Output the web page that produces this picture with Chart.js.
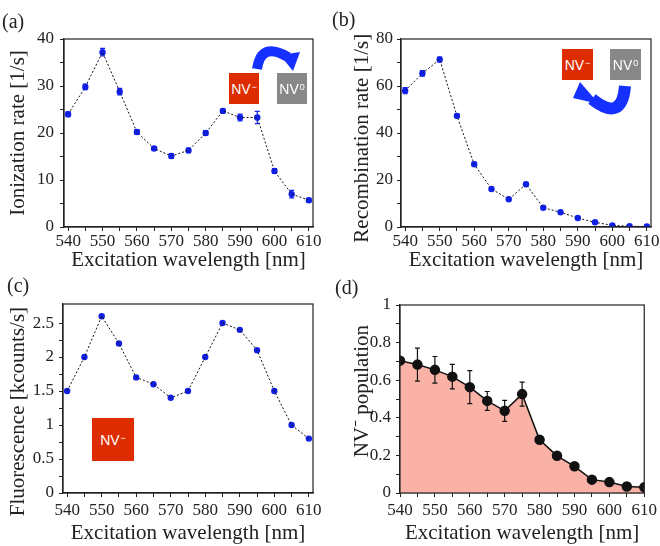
<!DOCTYPE html>
<html>
<head>
<meta charset="utf-8">
<script src="https://cdn.jsdelivr.net/npm/chart.js@4.4.1/dist/chart.umd.min.js"></script>
<style>
body{margin:0;background:#fff;}
#fig{position:relative;width:660px;height:546px;font-family:"Liberation Serif",serif;overflow:hidden;}
canvas{position:absolute;}
.lab{position:absolute;font-size:20px;color:#222;line-height:1;}
.nv{position:absolute;color:#fff;font-family:"Liberation Sans",Arial,sans-serif;font-size:14px;display:flex;align-items:center;justify-content:center;}
.nv sup{font-size:9px;position:relative;top:-2px;margin-left:1px;}
.red{background:#dd2c00;}
.gray{background:#888;}
svg{position:absolute;left:0;top:0;}
</style>
</head>
<body>
<div id="fig">
  <canvas id="ca" width="330" height="273" style="left:0;top:0"></canvas>
  <canvas id="cb" width="330" height="273" style="left:330px;top:0"></canvas>
  <canvas id="cc" width="330" height="273" style="left:0;top:273px"></canvas>
  <canvas id="cd" width="330" height="273" style="left:330px;top:273px"></canvas>

  <div class="lab" style="left:2px;top:11px">(a)</div>
  <div class="lab" style="left:332px;top:9px">(b)</div>
  <div class="lab" style="left:7px;top:275px">(c)</div>
  <div class="lab" style="left:335px;top:277px">(d)</div>

  <div class="nv red" style="left:229px;top:73px;width:30px;height:31px">NV<sup>−</sup></div>
  <div class="nv gray" style="left:277px;top:73px;width:30px;height:31px">NV<sup>0</sup></div>
  <div class="nv red" style="left:562px;top:49px;width:31px;height:31px">NV<sup>−</sup></div>
  <div class="nv gray" style="left:610px;top:49px;width:31px;height:31px">NV<sup>0</sup></div>
  <div class="nv red" style="left:92px;top:418px;width:42px;height:43px">NV<sup>−</sup></div>

  <svg width="660" height="546">
    <path d="M257 69 Q261 41 288 57" stroke="#1530ff" stroke-width="10" fill="none"/>
    <polygon points="280,55 300,52 293,71" fill="#1530ff"/>
    <path d="M625 86 Q622 123 592 99" stroke="#1530ff" stroke-width="12" fill="none"/>
    <polygon points="580,82 599,104 573,98" fill="#1530ff"/>
  </svg>
</div>

<script>
// datos
const wavelength = [540, 545, 550, 555, 560, 565, 570, 575, 580, 585, 590, 595, 600, 605, 610];

const ionRate = [24.0, 29.8, 37.2, 28.8, 20.2, 16.7, 15.1, 16.3, 20.0, 24.7, 23.3, 23.3, 11.9, 7.0, 5.7];
const ionErr  = [0.5, 0.6, 0.8, 0.7, 0.5, 0.4, 0.5, 0.5, 0.5, 0.4, 0.7, 1.3, 0.5, 0.8, 0.4];

const recRate = [58.0, 65.4, 71.3, 47.3, 26.7, 16.2, 11.8, 18.2, 8.2, 6.3, 3.8, 2.0, 0.7, 0.3, 0.2];
const recErr  = [1.3, 1.2, 1.0, 0.8, 0.8, 0.6, 0.5, 0.6, 0.4, 0.3, 0.3, 0.2, 0.2, 0.1, 0.1];

const fluor = [1.5, 2.0, 2.6, 2.2, 1.7, 1.6, 1.4, 1.5, 2.0, 2.5, 2.4, 2.1, 1.5, 1.0, 0.8];

const nvPop = [0.704, 0.683, 0.655, 0.619, 0.563, 0.490, 0.437, 0.526, 0.283, 0.198, 0.142, 0.071, 0.058, 0.035, 0.030];
const nvErr = [0, 0.088, 0.071, 0.065, 0.088, 0.050, 0.056, 0.064, 0, 0, 0, 0, 0, 0, 0];

// ticks
const xTicks = [540, 545, 550, 555, 560, 565, 570, 575, 580, 585, 590, 595, 600, 605, 610];
const xLabels = [540, 550, 560, 570, 580, 590, 600, 610];
const yTicksA = [0, 5, 10, 15, 20, 25, 30, 35, 40];
const yLabelsA = [0, 10, 20, 30, 40];
const yTicksB = [0, 10, 20, 30, 40, 50, 60, 70, 80];
const yLabelsB = [0, 20, 40, 60, 80];
const yTicksC = [0, 0.25, 0.5, 0.75, 1, 1.25, 1.5, 1.75, 2, 2.25, 2.5];
const yLabelsC = [0, 0.5, 1, 1.5, 2, 2.5];
const yTicksD = [0, 0.1, 0.2, 0.3, 0.4, 0.5, 0.6, 0.7, 0.8, 0.9, 1];
const yLabelsD = [0, 0.2, 0.4, 0.6, 0.8, 1];

const FONT = '"Liberation Serif", serif';
const TXT = '#222';
const NB = '\u00a0';

// marco
const frame = {
    id: 'frame',
    afterDraw(c){
        const {ctx, chartArea: a} = c;
        ctx.save();
        ctx.strokeStyle = '#222';
        ctx.lineWidth = 1.2;
        ctx.strokeRect(a.left, a.top, a.right - a.left, a.bottom - a.top);
        ctx.restore();
    }
};

// barras de error
const errbars = {
    id: 'errbars',
    afterDatasetsDraw(c, args, o){
        if(!o.err) return;
        const ds = c.data.datasets[o.dataset];
        const x = c.scales.x, y = c.scales.y;
        const ctx = c.ctx;
        ctx.save();
        ctx.strokeStyle = o.color;
        ctx.lineWidth = o.width || 1;
        ds.data.forEach((p, i) => {
            const e = o.err[i];
            if(!e) return;
            const px = x.getPixelForValue(p.x);
            const y1 = y.getPixelForValue(p.y + e);
            const y2 = y.getPixelForValue(p.y - e);
            ctx.beginPath();
            ctx.moveTo(px, y1); ctx.lineTo(px, y2);
            ctx.moveTo(px - o.cap, y1); ctx.lineTo(px + o.cap, y1);
            ctx.moveTo(px - o.cap, y2); ctx.lineTo(px + o.cap, y2);
            ctx.stroke();
        });
        ctx.restore();
    }
};

function puntos(vals){
    return wavelength.map((w, i) => ({x: w, y: vals[i]}));
}

function crearPanel(id, p){
    return new Chart(document.getElementById(id), {
        type: 'line',
        data: {datasets: p.datasets},
        options: {
            responsive: false,
            animation: false,
            layout: {padding: {top: p.top, right: p.right, left: 0, bottom: 0}},
            plugins: {
                legend: {display: false},
                tooltip: {enabled: false},
                errbars: p.errbars || {}
            },
            scales: {
                x: {
                    type: 'linear',
                    min: p.xmin, max: p.xmax,
                    afterBuildTicks: s => { s.ticks = xTicks.map(v => ({value: v})); },
                    afterFit: s => { s.height = p.bottom; },
                    ticks: {
                        callback: v => xLabels.includes(v) ? v : '',
                        font: {family: FONT, size: 17}, color: TXT,
                        padding: p.xpad, maxRotation: 0, autoSkip: false
                    },
                    grid: {drawOnChartArea: false, color: '#222', tickLength: 4},
                    border: {color: '#222', width: 1.2},
                    title: {display: true, text: 'Excitation wavelength [nm]', color: TXT,
                        font: {family: FONT, size: 21}, padding: {top: 0, bottom: p.xtpad}}
                },
                y: {
                    type: 'linear',
                    min: p.ymin, max: p.ymax,
                    afterBuildTicks: s => { s.ticks = p.yTicks.map(v => ({value: v})); },
                    afterFit: s => { s.width = p.left; },
                    ticks: {
                        callback: v => p.yLabels.includes(v) ? v : '',
                        font: {family: FONT, size: 17}, color: TXT,
                        padding: p.ypad, autoSkip: false
                    },
                    grid: {drawOnChartArea: false, color: '#222', tickLength: 4},
                    border: {color: '#222', width: 1.2},
                    title: {display: true, text: p.ytitle, color: TXT,
                        font: {family: FONT, size: 21}, padding: {top: p.ytpad, bottom: 0}}
                }
            }
        },
        plugins: [frame, errbars]
    });
}

function serieAzul(vals){
    return [
        {data: puntos(vals), borderColor: '#111', borderWidth: 1, borderDash: [2, 2],
         pointRadius: 0, fill: false, tension: 0},
        {data: puntos(vals), showLine: false, pointRadius: 3.2,
         pointBackgroundColor: '#1020e8', pointBorderColor: '#1020e8', pointBorderWidth: 0}
    ];
}

crearPanel('ca', {
    datasets: serieAzul(ionRate),
    top: 39, right: 17, left: 64, bottom: 46,
    xmin: 538.8, xmax: 611.2, ymin: 0, ymax: 40,
    yTicks: yTicksA, yLabels: yLabelsA,
    xpad: 0, xtpad: 0, ypad: 6, ytpad: 6,
    ytitle: 'Ionization rate [1/s]',
    errbars: {err: ionErr, dataset: 1, color: '#1020e8', cap: 2.5, width: 1.2}
});

crearPanel('cb', {
    datasets: serieAzul(recRate),
    top: 39, right: 9, left: 71, bottom: 46,
    xmin: 538.8, xmax: 611.2, ymin: 0, ymax: 80,
    yTicks: yTicksB, yLabels: yLabelsB,
    xpad: 0, xtpad: 0, ypad: 4, ytpad: 20,
    ytitle: 'Recombination rate [1/s]' + NB.repeat(2),
    errbars: {err: recErr, dataset: 1, color: '#1020e8', cap: 2.5, width: 1.2}
});

crearPanel('cc', {
    datasets: serieAzul(fluor),
    top: 31, right: 17, left: 63, bottom: 53,
    xmin: 538.8, xmax: 611.2, ymin: 0, ymax: 2.78,
    yTicks: yTicksC, yLabels: yLabelsC,
    xpad: 3, xtpad: 0, ypad: 5, ytpad: 6,
    ytitle: 'Fluorescence [kcounts/s]' + NB.repeat(5)
});

crearPanel('cd', {
    datasets: [
        {data: puntos(nvPop), borderColor: '#111', borderWidth: 1.5,
         backgroundColor: 'rgb(250,178,166)', fill: 'origin', tension: 0,
         pointRadius: 4.5, pointBackgroundColor: '#111', pointBorderColor: '#111'}
    ],
    top: 32, right: 11, left: 70, bottom: 53,
    xmin: 540, xmax: 610, ymin: 0, ymax: 1,
    yTicks: yTicksD, yLabels: yLabelsD,
    xpad: 3, xtpad: 0, ypad: 5, ytpad: 20,
    ytitle: NB.repeat(3) + 'NV⁻ population',
    errbars: {err: nvErr, dataset: 0, color: '#111', cap: 2.5, width: 1.2}
});
</script>
</body>
</html>
